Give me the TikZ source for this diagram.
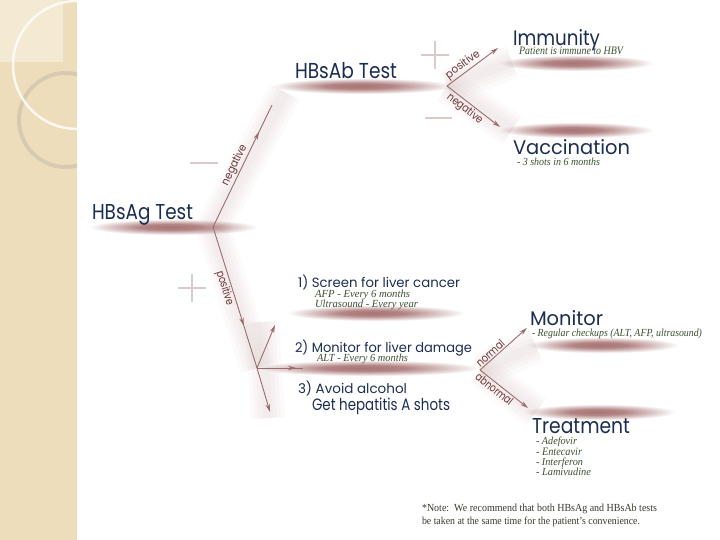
\documentclass[tikz,border=0pt]{standalone}
\usepackage{graphicx}
\usepackage{fontspec}
\setmainfont{Liberation Serif}
\newfontfamily\headfont{Poppins}
\usetikzlibrary{arrows.meta,decorations.markings}
\definecolor{navy}{HTML}{1C2E50}
\definecolor{arrowc}{HTML}{9C6B6B}
\definecolor{barc}{HTML}{A87474}
\definecolor{signc}{HTML}{DACACA}
\definecolor{subc}{HTML}{3B5030}
\definecolor{labc}{HTML}{6B3535}
\definecolor{notec}{HTML}{3A3A2A}
\definecolor{panel}{HTML}{EEDDBB}
\definecolor{panellt}{HTML}{F4E9D2}
\definecolor{ringc}{HTML}{D5C9B2}
\pgfdeclareradialshading{barrad}{\pgfpoint{-3bp}{0bp}}{color(0bp)=(barc); color(8bp)=(barc!88); color(15bp)=(barc!45); color(22bp)=(white); color(50bp)=(white)}
\newcommand{\tw}[3]{\resizebox{#1}{#2}{#3}}
\tikzset{
  txt/.style={anchor=base west, inner sep=0pt, outer sep=0pt},
  head/.style={txt, text=navy, font=\headfont},
  sub/.style={txt, text=subc, font=\itshape},
  lab/.style={inner sep=1.2pt, text=labc, font=\headfont},
  conn/.style={draw=arrowc, line width=0.9pt},
  tip/.style={conn, -{Stealth[length=8pt,width=4.5pt]}},
  midtip/.style={conn, postaction={decorate}, decoration={markings, mark=at position #1 with {\arrow{Stealth[length=8pt,width=4.5pt]}}}},
  sign/.style={draw=signc, line width=2.6pt},
  swoosh/.style={draw=barc, opacity=0.03, line cap=butt}
}
\newcommand{\shadebar}[3]{%
  \fill[shading=barrad] (#1,#3-9) rectangle (#2,#3+9);}
\newcommand{\band}[2]{%
  \draw[swoosh, line width=34pt] #1 -- #2;
  \draw[swoosh, line width=26pt] #1 -- #2;
  \draw[swoosh, line width=18pt] #1 -- #2;
  \draw[swoosh, line width=10pt] #1 -- #2;}
\begin{document}
\begin{tikzpicture}[x=1pt,y=-1pt]
\useasboundingbox (0,0) rectangle (720,540);
\fill[white] (0,0) rectangle (720,540);
% left decorative panel
\begin{scope}
  \clip (0,0) rectangle (77,540);
  \fill[panel] (0,0) rectangle (77,540);
  \fill[panellt] (0,0) rectangle (63,62);
  \draw[ringc, line width=4pt, opacity=0.9] (66,120) circle (47);
  \draw[white, line width=2.5pt, opacity=0.8] (77,65) circle (64);
\end{scope}
% bars
\shadebar{84}{276}{227}
\shadebar{266}{474}{86}
\shadebar{494}{670}{63}
\shadebar{494}{670}{130}
\shadebar{282}{484}{313}
\shadebar{250}{505}{368}
\shadebar{522}{695}{345}
\shadebar{519}{692}{412}
% faint background bands
\band{(213,227)}{(285,92)}
\band{(213,227)}{(257,368)}
\band{(262,322)}{(268,418)}
\band{(447,86)}{(512,62)}
\band{(447,86)}{(512,130)}
\band{(480,370)}{(536,346)}
\band{(480,370)}{(536,412)}
% signs
\draw[sign] (190,163) -- (218,163);
\draw[sign] (178,288) -- (206,288) (192,274) -- (192,302);
\draw[sign] (421,55) -- (449,55) (435,41) -- (435,69);
\draw[sign] (425,118) -- (452,118);
% texts
\node[head] (ag) at (92,219) {\tw{101pt}{15pt}{HBsAg Test}};
\node[head] (ab) at (295,79) {\tw{102pt}{16pt}{HBsAb Test}};
\node[head] (imm) at (513,46) {\tw{87pt}{16pt}{Immunity}};
\node[sub] (immt) at (519,55) {\tw{104pt}{7.5pt}{Patient is immune to HBV}};
\node[head] (vac) at (513,155) {\tw{117pt}{15pt}{Vaccination}};
\node[sub] (vact) at (517,166) {\tw{83pt}{7.5pt}{- 3 shots in 6 months}};
\node[head] (s1) at (298,287) {\tw{162pt}{12.5pt}{1) Screen for liver cancer}};
\node[sub] (s1a) at (315,297) {\tw{95pt}{7.5pt}{AFP - Every 6 months}};
\node[sub] (s1b) at (315,307) {\tw{103pt}{7.5pt}{Ultrasound - Every year}};
\node[head] (s2) at (295,352) {\tw{177pt}{12.5pt}{2) Monitor for liver damage}};
\node[sub] (s2a) at (317,361) {\tw{91pt}{7.5pt}{ALT - Every 6 months}};
\node[head] (s3) at (298,393) {\tw{109pt}{12.5pt}{3) Avoid alcohol}};
\node[head] (s3b) at (312,410) {\tw{138pt}{12.5pt}{Get hepatitis A shots}};
\node[head] (mon) at (530,325) {\tw{73pt}{15pt}{Monitor}};
\node[sub] (mont) at (532,336) {\tw{170pt}{7.5pt}{- Regular checkups (ALT, AFP, ultrasound)}};
\node[head] (tr) at (532,433) {\tw{98pt}{15pt}{Treatment}};
\node[sub] (tr1) at (536,444) {\tw{41pt}{7.5pt}{- Adefovir}};
\node[sub] (tr2) at (536,455) {\tw{46pt}{7.5pt}{- Entecavir}};
\node[sub] (tr3) at (536,465) {\tw{47pt}{7.5pt}{- Interferon}};
\node[sub] (tr4) at (536,475) {\tw{55pt}{7.5pt}{- Lamivudine}};
\node[txt, text=notec] (n1) at (422,511) {\tw{235pt}{7.5pt}{*Note:\ \ We recommend that both HBsAg and HBsAb tests}};
\node[txt, text=notec] (n2) at (422,524) {\tw{218pt}{7.5pt}{be taken at the same time for the patient's convenience.}};
% branch coordinates
\coordinate (agb) at (213,227);
\coordinate (agneg) at (272,105);
\coordinate (tri) at (257,368);
\coordinate (triup) at (275,325);
\coordinate (triright) at (303,368);
\coordinate (tridown) at (270,412);
\coordinate (abb) at (447,86);
\coordinate (abpos) at (498,48);
\coordinate (abneg) at (500,127);
\coordinate (mb) at (480,370);
\coordinate (mnorm) at (527,328);
\coordinate (mabn) at (528,408);
% connectors
\draw[midtip=0.78] (agb) -- node[lab, sloped, above, pos=0.48] (l1) {\tw{44pt}{8.5pt}{negative}} (agneg);
\draw[midtip=0.7] (agb) -- node[lab, sloped, below, pos=0.42] (l2) {\tw{36pt}{8.5pt}{positive}} (tri);
\draw[tip] (tri) -- (triup);
\draw[midtip=0.85] (tri) -- (triright);
\draw[tip] (tri) -- (tridown);
\draw[tip] (abb) -- node[lab, sloped, above, pos=0.4] (l3) {\tw{40pt}{8.5pt}{positive}} (abpos);
\draw[tip] (abb) -- node[lab, sloped, below, pos=0.42] (l4) {\tw{42pt}{8.5pt}{negative}} (abneg);
\draw[tip] (mb) -- node[lab, sloped, above, pos=0.3] (l5) {\tw{34pt}{8.5pt}{normal}} (mnorm);
\draw[tip] (mb) -- node[lab, sloped, below, pos=0.38] (l6) {\tw{44pt}{8.5pt}{abnormal}} (mabn);
\end{tikzpicture}
\end{document}
